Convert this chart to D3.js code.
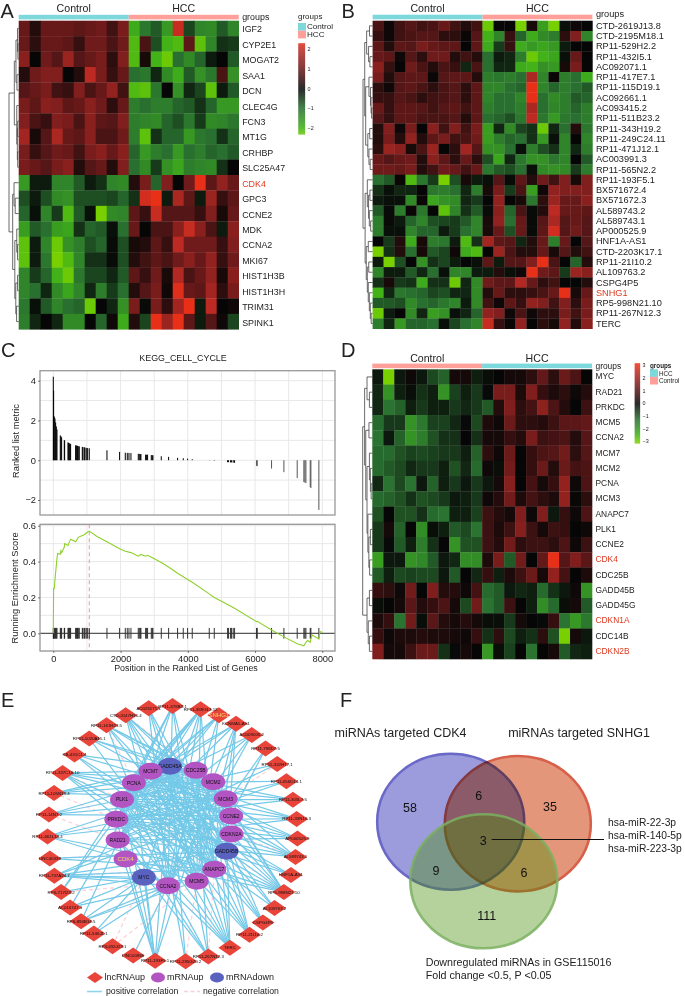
<!DOCTYPE html>
<html><head><meta charset="utf-8">
<script src="https://cdn.jsdelivr.net/npm/d3@7"></script>
<style>html,body{margin:0;padding:0;background:#fff}svg{display:block;filter:blur(.45px)}text{font-family:"Liberation Sans",Arial,sans-serif;fill:#222}</style>
</head><body><div id="c"></div>
<script>
// ---------- DATA ----------
const genesA=["IGF2","CYP2E1","MOGAT2","SAA1","DCN","CLEC4G","FCN3","MT1G","CRHBP","SLC25A47","CDK4","GPC3","CCNE2","MDK","CCNA2","MKI67","HIST1H3B","HIST1H3H","TRIM31","SPINK1"];
const valuesA=[
[1.0,.3,1.0,1.0,1.0,.9,1.0,1.1,.6,1.2,-1.9,-1.1,-.8,-1.6,2.1,-.6,-1.3,-1.4,-.8,-1.3],
[1.0,.4,1.0,1.0,.9,.5,1.1,1.1,.7,1.1,-2.1,.7,-.7,-2,-2.1,.9,-2.2,-1.3,-.4,-.5],
[1.4,0,1.1,.8,1.6,.8,1.0,1.2,.4,1.3,-2.1,.2,-2,-2.3,-1,-1.4,-.9,-.2,0,-.8],
[.3,1.1,1.3,1.3,0,.3,2.0,1.2,.5,1.0,-1,-1.1,-.3,-1.4,-1.9,-.8,-1.5,-1.1,.7,-1.5],
[.8,1.0,1.2,.6,.5,1.3,.7,1.0,1.5,.6,-2.1,-2.2,-1.1,0,-1.5,-.3,-.6,-2.2,-.2,-.8],
[1.2,.9,1.4,1.3,.9,1.0,1.4,1.1,.4,1.0,-1.2,-1,-1.2,-1.2,-.9,-.8,-.4,-.9,-1.6,-1.6],
[1.3,.7,.5,1.3,1.2,.7,1.4,.9,.8,1.3,-1.2,-1.3,-1.4,-.9,-.7,-1.1,-.5,-1.4,-1.3,-1.1],
[1.7,.2,.8,1.8,1.0,.9,1.4,.7,.7,1.1,-1.2,-2.2,-.4,-.9,-.9,-1.6,-1.1,-1,-.4,-.9],
[1.2,.5,.8,1.1,1.0,.6,1.2,1.4,1.0,1.4,-.9,-1.6,-1.2,-1,-1.6,-1,-1.2,-.9,-1,-.8],
[1.2,1.0,.8,1.2,1.4,.3,.8,1.0,.3,1.3,-1,-1.4,-.5,-1.5,-1.8,-1.2,-1.3,-1.4,-.4,0],
[-1.6,-.2,-.2,-1.3,-1.3,-.8,-.2,-.4,-1.3,-1.4,.3,1.2,-.9,1.3,0,1.1,2.6,.9,1.5,1.0],
[-.7,-.2,-.7,-1.4,-1.5,-.7,-.7,-.7,-.6,-.9,-.4,2.2,2.4,-.2,1.8,.9,-.2,1.6,.5,.9],
[-.9,-.1,-1.3,-.5,-2.1,-.8,-.1,-2.4,-1.4,-1.3,.9,.5,2.1,.8,.8,.8,.5,1.3,.2,1.0],
[-1.7,-.8,-1.0,-1.7,-1.8,-.4,-.9,-.8,-.1,-1,1.0,0,.7,.7,1.4,2.1,1.4,.7,-.2,1.4],
[-2.2,-.2,-1.3,-2.3,-1.5,-1.2,-.7,-.9,-.05,-.7,.2,.3,.9,.5,2.0,1.1,1.1,1.1,.5,1.3],
[-2.2,-.2,-1.1,-2.4,-2.1,-1.3,-.4,-.4,-.05,-.7,.3,.6,.9,.7,1.1,1.4,1.0,1.5,.5,1.1],
[-1.3,-.5,-.9,-2,-2.3,-1.1,-.6,-.6,-.3,-.8,.9,.5,1.1,.2,1.9,.7,1.0,1.5,.2,1.4],
[-1.3,-1.0,-.3,-1.4,-1.8,-1.3,-.3,-1.2,-.5,-1,.3,.8,1.2,.1,2.3,1.0,.9,1.7,.4,1.2],
[-1.1,-.1,-.8,-1.3,-1,-.9,-2.3,0,-.3,-1.5,1.2,-.05,1.2,.4,1.7,2.4,-.2,2.0,0,.1],
[-1.2,-.3,0,-.3,-1.4,-1.4,0,-.9,.1,-1.9,.3,-.6,2.8,1.6,2.7,.9,-.2,.8,.1,-.6]];
const genesB=["CTD-2619J13.8","CTD-2195M18.1","RP11-529H2.2","RP11-432I5.1","AC092071.1","RP11-417E7.1","RP11-115D19.1","AC092661.1","AC093415.2","RP11-511B23.2","RP11-343H19.2","RP11-249C24.11","RP11-471J12.1","AC003991.3","RP11-565N2.2","RP11-193F5.1","BX571672.4","BX571672.3","AL589743.2","AL589743.1","AP000525.9","HNF1A-AS1","CTD-2203K17.1","RP11-21I10.2","AL109763.2","CSPG4P5","SNHG1","RP5-998N21.10","RP11-267N12.3","TERC"];
const valuesB=[
[.7,.1,.6,.8,.6,.7,1,.6,.3,.6,-2.3,0,0,-2.4,.2,-1.7,-2.4,-.1,.1,0],
[.5,.1,.6,.7,.8,.8,.4,.4,.05,.8,-2,-1.3,.5,-.9,-1.9,-1.4,-1.2,.4,1.3,-1.3],
[.9,.3,.9,.8,1.2,1,.9,.9,0,.9,-1.9,-.5,.5,-1.9,-1.6,-1.8,-1.6,-.2,0,0],
[1,.9,.1,.8,.4,1.1,1.1,.3,.6,.3,-1,-.2,-.3,-1.2,-2.3,-2,-1.8,-.1,1,0],
[1.4,.5,0,1.1,.7,.3,.7,.5,-.3,.7,-1,-.3,-.3,-1.9,-2,-1.5,-1.6,.2,1.2,0],
[1.2,.3,.8,.9,.9,.05,.8,.9,.9,.3,-1.2,-1.1,-1.2,-1,1.8,-1.3,.05,-1.2,-1,-1.9],
[.4,.1,.8,.9,.7,.4,.7,.8,.4,.9,-1.3,-1.3,-1,-.9,2.7,-1.3,-.9,-1.2,-1,-.8],
[.5,.5,.8,.7,.4,.6,.7,.8,.4,.9,-1.3,-1,-1,-1.3,2.4,-1,-1.4,-1.2,-.8,-.9],
[1,.5,.9,.9,.8,.6,.8,.9,.6,.9,-1.2,-1,-1,-1.2,1.8,-1,-1.3,-1.2,-.9,-1.2],
[.8,.5,.9,.9,.7,.7,.7,.8,.3,.9,-1,-.9,-.7,-1.1,2,-1.1,-1.6,-1.1,-1,-1.2],
[.3,1.3,.1,1.2,0,1.4,.6,1.3,.6,1.2,-1.7,-.3,-1.4,-.6,-.4,-2.3,-.3,-1,.3,-1.1],
[.3,1.2,.3,1.5,.3,.9,1.2,.6,.7,1.1,-1.7,-1.2,-.9,-1,-.4,-1.6,-.1,-1.3,0,-1.3],
[.4,1.6,1.4,.2,.7,1.6,0,.4,1.7,.8,-1.5,-1.5,-1,-.1,-1.2,-.7,-.4,-1.3,-.3,-1.2],
[1,.8,1,1.1,.3,1.4,.9,.4,1,.4,-.7,-1.8,-.3,-1.1,-1.5,-1.5,-1.1,-1.3,0,-.8],
[1.1,1.1,1,1.2,.3,.6,1.1,1,.6,1,-1.1,-.8,-.7,-1,-.1,-1.4,-1.5,-1.4,-.5,-1.2],
[-1,-.8,.05,-2.1,-1.1,-.5,-2.4,-.7,.2,-.2,-.1,.8,-.05,.9,.3,1.1,.6,1.3,.2,1.3],
[-.4,-.1,-.3,-.3,0,-1.1,-1.2,-1,-.3,-1.2,.2,1.2,-.5,.7,-1.7,.1,1.5,1.3,1.3,1.3],
[-.2,-.1,-.1,-1.4,.05,-1.8,-1.5,-1.4,-.3,-.5,0,1.5,0,.2,-1.1,.4,1.6,1,1,1.4],
[-.8,-.05,-1.2,.05,-1.1,0,-2.2,-1.3,-.4,-.8,-.05,1.4,-.9,.7,-.05,.3,2,1,1,.9],
[-1.2,-.05,-.2,-.9,-1.3,-.7,-.6,-.5,-.8,-1.3,.2,1.5,-1,1,-.05,.8,1.8,.8,1,.8],
[-1.2,-.1,-.1,-1.3,-.9,-.9,-.2,-.5,-1,-1.3,.2,1,-.7,1,-.05,.9,2.2,.8,1.1,.8],
[0,-.5,.3,-1.9,.2,-1.2,-1.1,-.2,-2.1,-.4,1.7,.9,.8,-.3,.3,1,-1.2,1,0,.8],
[-2.4,-.4,.3,-1,.2,-.8,-.6,.1,-1.9,-2.1,0,1.6,.7,.3,.3,1,.2,.8,.3,.6],
[-.2,-2.4,-.7,0,-1.5,-.4,-.6,-.2,0,-.1,.9,-.2,.8,.8,1.3,2.7,.7,0,-.9,.3],
[-1.3,-.2,-.2,-.8,-.3,-1,-.1,-1.3,-1.3,-.2,-.2,.3,-.1,.1,2.6,1.1,.9,-.5,1.6,1.4],
[-.4,.2,-.5,-.4,-1.9,-.4,-.4,-2.3,-.3,-1.4,1.1,.9,.9,1.9,1,.4,.6,0,0,.3],
[-2,-.3,-1.1,-1,-.9,-.6,-.7,-.3,-.3,-1.4,.3,1,.4,.4,.5,.7,1,2.6,.2,1],
[-.8,-.8,-.7,-1.4,-1,-.9,-1.1,-1.3,-.2,-1.4,.6,.1,.9,.5,1.5,1.3,.6,1.3,.4,1.2],
[-2.3,-.2,0,-1.4,-.3,-1.7,-1.5,-.1,-.3,-.9,1.5,1.3,.1,.7,.1,.4,.4,1.2,.6,1.2],
[-1.2,-.3,-1.6,-.9,-.9,-1,-.1,-.6,-1,-1.3,2.1,.5,.05,1.5,0,.4,.2,1.5,.3,1.4]];
const genesD=["MYC","RAD21","PRKDC","MCM5","CCNA2","MCM7","MCM2","PCNA","MCM3","ANAPC7","PLK1","CCNE2","CDK4","CDC25B","GADD45B","GADD45G","CDKN1A","CDC14B","CDKN2B"];
const valuesD=[
[-.2,-3,-.2,.1,-.2,-.8,-1.1,.2,.2,-.3,-.1,0,.2,.2,.5,1.2,.5,1.3,.9,0],
[-.4,-1.9,-.3,-.1,-.5,-.3,-1.9,-.7,-.3,-.6,-.05,1.5,1.5,.3,1.6,.6,.3,.5,.1,.4],
[-.4,-1.3,-1.1,-.3,-.6,-.3,-.3,-.6,-.4,-.6,-1,.4,1.6,.5,.8,1.8,.9,.4,0,.7],
[-1.2,-.6,-.6,-1.9,-1.4,-.7,-.7,-.4,-.05,-.8,.3,.1,1.3,.5,.5,.4,.7,1.1,1.1,1.2],
[-1.3,-.2,-1.1,-1.9,-1.5,-.9,-.5,-.5,0,-.5,.2,.2,.6,.4,1.5,.7,.8,.9,.4,1],
[-1.2,-1.2,-.9,-.7,-.8,-.7,-.6,-.6,-.3,-1.1,.5,.1,1.3,0,.6,.9,1,1.4,.5,1],
[-1.2,-1,-.8,-.4,-.6,-.6,-.3,-.9,-.4,-1.2,.1,-.1,1.4,0,.6,1.3,.4,1.3,.8,.9],
[-.4,-1.3,-.8,-1.3,-.2,-1.1,-.3,-.6,-.2,-.6,-.2,.2,1.7,0,.8,.2,.6,1.9,.1,.9],
[-1.2,-1.1,-.9,-.5,-.9,-.8,-.6,-.2,-.3,-.6,.1,.4,1.4,.3,.8,.5,.3,1.9,.05,.5],
[-.9,0,-.9,-.9,-.5,-1.2,-1.3,-.3,-.3,-.7,.7,.4,.2,1.6,.1,1.6,-.2,.6,.1,.9],
[-.6,.2,-1.1,0,-1.8,-.1,-.3,-1,-.8,-1.3,.7,.3,.7,1.7,.7,.2,.7,.6,0,.1],
[-.6,-.05,-1,-.3,-1.5,-.5,0,-1.9,-.9,-.9,.7,.4,1.4,.5,.7,.7,.5,.9,.1,.7],
[-2.1,-.2,-.2,-1.9,-1.7,-1,-.2,-.4,-1.8,-1.8,.3,1.5,-1,1.4,0,1.2,3,1,1.6,1.1],
[-1,-.3,-.8,-.7,-.8,-.8,-.2,-1,0,-.4,.6,-.3,.3,.7,1.3,.2,1.9,.8,0,.3],
[.6,.5,.1,1.4,0,1.6,.4,.4,.1,.8,-1.2,-1,-.2,-.4,-.3,-1.2,-.5,-.2,.1,-1.9],
[-.1,0,.2,1.1,.4,.6,.9,.2,-.8,1.4,-1.3,-1,.7,0,-.3,-1.8,-1.2,-.1,.2,-1],
[.3,.6,-1.3,1.4,-.1,1.1,.4,.2,.4,.2,-.1,-.1,-.6,.2,0,-.05,.6,-1.3,-2,-1.4],
[.6,.1,.3,.3,.4,.3,.3,.2,.1,.6,-.5,.5,-.8,-.3,-.5,.5,-.9,-3,.2,-.2],
[1.6,.2,.2,.7,1.3,1.3,-.5,-.05,.2,0,-2,-.1,-.7,0,-1.3,0,.2,-1,-.4,-.3]];
const redGenes=["CDK4","SNHG1","CDKN1A","CDKN2B"];
// dendrograms: [height, child, child]; integers are row indices
const treeA=[1,[.45,[.28,[.12,0,[.08,1,2]],[.18,3,4]],[.2,5,[.14,[.1,6,7],[.1,8,9]]]],[.62,[.48,10,[.36,11,12]],[.4,[.2,13,[.12,14,15]],[.3,[.12,16,17],[.22,18,19]]]]];
const treeB=[1,[.82,[.62,[.32,0,1],[.42,2,[.28,3,4]]],[.72,[.38,5,[.22,6,[.16,7,[.1,8,9]]]],[.5,[.3,10,11],[.38,12,[.25,13,14]]]]],[.78,[.55,15,[.42,[.28,16,17],[.34,18,[.2,19,20]]]],[.66,[.45,21,22],[.55,[.4,23,24],[.45,25,[.34,26,[.24,27,[.15,28,29]]]]]]]];
const treeD=[1,[.8,[.55,0,[.3,1,2]],[.68,[.35,3,4],[.55,[.3,5,[.2,6,[.12,7,8]]],[.46,9,[.36,[.2,10,11],[.28,12,13]]]]]],[.55,[.3,14,15],[.42,16,[.3,17,18]]]];
const cbTicksA=[2,1,0,-1,-2], cbTicksD=[3,2,1,0,-1,-2,-3];
// GSEA
const hitRanks=[0,10,30,50,70,90,110,208,228,248,327,337,436,456,476,496,515,664,684,704,723,743,773,862,882,922,941,981,1021,1070,1596,1972,2141,2200,2250,2309,2527,2557,2587,2606,2745,2775,2804,2914,2943,2963,3211,3429,3696,3865,3994,4132,4638,4787,5183,5213,5272,5302,5351,5391,6045,6065,6491,6858,7254,7452,7482,7512,7641,7661,7898];
const hitMetric=[4.2,3.5,2.2,2.1,1.9,1.7,1.55,1.25,1.2,1.15,1,1,.9,.87,.85,.83,.82,.75,.74,.73,.72,.7,.7,.67,.66,.65,.64,.62,.61,.6,.5,.42,.38,.37,.37,.36,.32,.32,.31,.31,.28,.28,.28,.26,.25,.25,.2,.17,.12,.1,.08,.05,.01,-.02,-.1,-.1,-.11,-.11,-.12,-.13,-.28,-.3,-.42,-.6,-.9,-1.1,-1.12,-1.15,-1.35,-1.4,-2.5];
const esRank=[0,10,30,50,70,90,110,130,208,228,248,327,337,436,456,515,664,743,862,922,1021,1070,1300,1596,1972,2141,2309,2527,2606,2745,2804,2963,3211,3429,3696,3994,4132,4638,4787,5183,5391,6045,6065,6491,6858,7254,7452,7512,7560,7641,7661,7700,7898,7930,8000];
const esValue=[0,.25,.25,.3,.34,.38,.42,.445,.44,.46,.45,.48,.5,.49,.5,.525,.51,.535,.545,.55,.565,.57,.54,.51,.472,.458,.45,.43,.44,.43,.435,.42,.395,.37,.335,.3,.285,.22,.2,.16,.14,.065,.067,.018,-.02,-.058,-.07,-.05,-.04,-.05,-.03,-.01,-.032,.01,.005];
const peakRank=1070;
// network
const lncNodes=["RP11-378B3.1","RP11-388G13.12","SNHG1","KCNMA1-AS1","AC009005.2","RP11-798D7.5","RP11-332H17.1","RP11-656D14.1","RP11-305L7.5","RP11-33N16.3","AP000525.9","AL589743.1","HNF1A-AS1","RP5-998N21.10","AL109763.2","CSPG4P5","RP11-21I10.2","TERC","RP11-267N12.3","RP11-295G20.2","RP11-193F5.1","LINC00866","RP4-655J23.1","RP11-546J1.1","RP6-894B14.5","AC016747.3","RP6-717I23.2","RP11-737A24.7","LINC00339","RP11-661L14.4","RP11-14N7.2","RP11-105N13.4","RP11-337C18.10","KB-431C1.4","RP11-1020A11.1","RP11-161H23.5","CTD-2047H16.4","AC025171.1"];
const mrnaNodes=["GADD45A","CDC25B","MCM2","MCM3","CCNE2","CDKN2A","GADD45B","ANAPC7","MCM5","CCNA2","MYC","CDK4","RAD21","PRKDC","PLK1","PCNA","MCM7"];
const mrnaDown=["GADD45A","GADD45B","MYC"];
const posEdges=[[16,15,14,13,9,8,7],[16,15,14,13,12,10,9,8,7],[16,14,13,12,9,8],[15,14,12,9,8,7,6],[14,12,10,9],[9,8],[14,12],[13,12,15],[16,15,14,13],[16,15,14,13,12],[14,13,12,16,15],[16,15,14,13,12,1],[15,14,13],[16,15,14,13,12,11,0,1,2,3],[14,16,0],[16,15,0,1],[16,15,14,0,1,2],[16,15,14,13,12,0,1,2,3],[14,13,12,0,1],[0,16],[12,13,14,15,0,2,1,10],[9],[],[10,9],[10,9,8,16],[10,9,16],[10,16,15],[3,4,6,7,8,9,10],[7,6],[2,3,4,7,8],[1,2,3,4],[0,1,2,3],[1,2,3,4,6,7,8],[1,3,6,7],[1,2,4,8],[1,2,3,6,7,9],[3,4,6,7,8,9],[8,9,7,6]];
const negEdges=[[36,1],[32,14],[31,13],[30,12],[28,6],[27,7],[26,8],[24,9],[22,10],[22,8],[21,9],[5,4],[6,3],[19,8],[18,7],[13,6],[11,5],[35,15]];
const lncAngleIdx=[0,1,10,16,19,20,23,28,36,38], lncAngleDeg=[0,13,92,142,174,188,219,259,338,360];
const mrnaAngleIdx=[0,1,3,6,8,9,11,17], mrnaAngleDeg=[-4,22,63,115,157,186,236.6,356];
// venn
const vennNumbers=["58","6","35","3","9","6","111"];
const mirList=["hsa-miR-22-3p","hsa-miR-140-5p","hsa-miR-223-3p"];

// ---------- DRAW ----------
const W=685,H=996;
const svg=d3.select("#c").append("svg").attr("width",W).attr("height",H);
svg.append("rect").attr("width",W).attr("height",H).attr("fill","#fff");
const TEAL="#7dd8dc",SALMON="#ff9f99",RED="#e03a20";
const palette=["#78d000","#3fb01a","#2a7230","#060606","#6a1a1a","#b82a24","#e83018"];
const mkColor=m=>d3.scaleLinear().domain([-1,-.82,-.43,0,.43,.82,1].map(t=>t*m)).range(palette).clamp(true);

function text(x,y,s,o={}){return svg.append("text").attr("x",x).attr("y",y).attr("text-anchor",o.a||"start")
 .attr("dominant-baseline","central").attr("font-size",o.f||8).attr("font-weight",o.w||null).style("fill",o.c||"#222").text(s);}
["A","B","C","D","E","F"].forEach((l,i)=>{const p=[[0.5,11],[341.5,11],[1,350],[341,350],[1,700],[340,700]][i];text(p[0],p[1],l,{f:20});});

function heat(o){
 const g=svg.append("g");
 const x=d3.scaleBand().domain(d3.range(20)).range([o.x0,o.x1]);
 const y=d3.scaleBand().domain(d3.range(o.rows.length)).range([o.y0,o.y1]);
 const col=mkColor(o.vmax);
 g.selectAll("g").data(o.values).join("g").each(function(row,i){
  d3.select(this).selectAll("rect").data(row).join("rect")
   .attr("x",(d,j)=>x(j)).attr("y",y(i)).attr("width",x.bandwidth()+.3).attr("height",y.bandwidth()+.3).attr("fill",d=>col(d));
 });
 o.ann.forEach((a,k)=>{
  const xa=o.x0+(o.x1-o.x0)*k/2;
  g.append("rect").attr("x",xa).attr("y",o.annY).attr("width",(o.x1-o.x0)/2).attr("height",4.6).attr("fill",a.c);
  text(xa+(o.x1-o.x0)/4,o.titleY,a.t,{a:"middle",f:10.6});
 });
 text(o.x1+3.5,o.annY+2.5+(o.gdy||0),"groups",{f:o.lf});
 o.rows.forEach((r,i)=>text(o.x1+3.5,y(i)+y.bandwidth()/2+(o.ldy||0),r,{f:o.lf,c:redGenes.includes(r)?RED:"#222"}));
 const depth=d3.scaleLinear().domain([0,1]).range([o.x0,o.treeL]);
 const p=d3.path();
 (function walk(n){
  if(typeof n==="number")return{x:o.x0,y:y(n)+y.bandwidth()/2};
  const a=walk(n[1]),b=walk(n[2]),xx=depth(n[0]);
  p.moveTo(a.x,a.y);p.lineTo(xx,a.y);p.lineTo(xx,b.y);p.lineTo(b.x,b.y);
  return{x:xx,y:(a.y+b.y)/2};
 })(o.tree);
 g.append("path").attr("d",p.toString()).attr("fill","none").attr("stroke","#444").attr("stroke-width",.8);
}
heat({x0:18.7,x1:238.7,y0:20.7,y1:329.3,rows:genesA,values:valuesA,vmax:2.4,tree:treeA,treeL:9,annY:14.8,titleY:7.5,lf:8.9,ldy:1,gdy:-.5,
 ann:[{t:"Control",c:TEAL},{t:"HCC",c:SALMON}]});
heat({x0:372.6,x1:592.4,y0:20.7,y1:328.7,rows:genesB,values:valuesB,vmax:2.4,tree:treeB,treeL:363,annY:14.7,titleY:7.5,lf:9.2,gdy:-3.5,
 ann:[{t:"Control",c:TEAL},{t:"HCC",c:SALMON}]});
heat({x0:372.3,x1:592,y0:369.3,y1:659,rows:genesD,values:valuesD,vmax:3,tree:treeD,treeL:362.7,annY:363.6,titleY:357.5,lf:8.4,ldy:-.5,gdy:-.3,
 ann:[{t:"Control",c:SALMON},{t:"HCC",c:TEAL}]});

function colorbar(x,w,y0,y1,vTop,vBot,vmax,ticks){
 const sc=d3.scaleLinear().domain([vTop,vBot]).range([y0,y1]),col=mkColor(vmax);
 const g=svg.append("g");
 g.selectAll("rect").data(d3.range(y0,y1,1)).join("rect").attr("x",x).attr("y",d=>d).attr("width",w).attr("height",1.2).attr("fill",d=>col(sc.invert(d)));
 ticks.forEach(t=>text(x+w+2.5,sc(t),String(t).replace("-","\u2212"),{f:5.4}));
}
text(298,16,"groups",{f:8});
svg.append("rect").attr("x",298).attr("y",23).attr("width",8).attr("height",7.7).attr("fill",TEAL);
svg.append("rect").attr("x",298).attr("y",30.7).attr("width",8).attr("height",7.7).attr("fill",SALMON);
text(307,26.7,"Control",{f:8.1});text(307,34.7,"HCC",{f:8.1});
colorbar(298.3,6.8,43.3,134,2.3,-2.3,2.4,cbTicksA);
colorbar(634.7,5.4,363.3,443.3,3.15,-3.15,3,cbTicksD);
text(650,365,"groups",{f:6.3,w:"bold"});
svg.append("rect").attr("x",650).attr("y",369.3).attr("width",8).attr("height",7.6).attr("fill",TEAL);
svg.append("rect").attr("x",650).attr("y",376.9).attr("width",8).attr("height",7.6).attr("fill",SALMON);
text(659,373,"HCC",{f:6.3});text(659,380.7,"Control",{f:6.3});

// ----- C: GSEA -----
const xG=d3.scaleLinear().domain([0,8000]).range([53.3,322.3]);
const yT=d3.scaleLinear().domain([-2,4]).range([500,380.7]);
const yB=d3.scaleLinear().domain([0,.6]).range([633.3,525.7]);
const frameT={x:40,y:370.7,w:295,h:144.3},frameB={x:40,y:524.3,w:295,h:126.7};
text(183,358,"KEGG_CELL_CYCLE",{a:"middle",f:8.9});
function grid(fr,ys){
 const g=svg.append("g").attr("stroke","#e8e8e8").attr("stroke-width",1);
 d3.range(0,8001,1000).forEach(v=>g.append("line").attr("x1",xG(v)).attr("x2",xG(v)).attr("y1",fr.y).attr("y2",fr.y+fr.h));
 ys.forEach(p=>g.append("line").attr("x1",fr.x).attr("x2",fr.x+fr.w).attr("y1",p).attr("y2",p));
}
grid(frameT,d3.range(-2,4.1,1).map(yT));
grid(frameB,d3.range(-.1,.61,.1).map(yB));
svg.append("g").selectAll("line").data(hitRanks).join("line").attr("x1",d=>xG(d)).attr("x2",d=>xG(d))
 .attr("y1",yT(0)).attr("y2",(d,i)=>yT(hitMetric[i])).attr("stroke",(d,i)=>hitMetric[i]<-.2?"#555":"#000").attr("stroke-width",1);
svg.append("line").attr("x1",xG(peakRank)).attr("x2",xG(peakRank)).attr("y1",frameB.y).attr("y2",frameB.y+frameB.h).attr("stroke","#f08a8a").attr("stroke-width",.9).attr("stroke-dasharray","4 3");
svg.append("g").selectAll("line").data(hitRanks).join("line").attr("x1",d=>xG(d)).attr("x2",d=>xG(d))
 .attr("y1",yB(.03)).attr("y2",yB(-.03)).attr("stroke","#111").attr("stroke-width",.85);
svg.append("line").attr("x1",frameB.x).attr("x2",frameB.x+frameB.w).attr("y1",yB(0)).attr("y2",yB(0)).attr("stroke","#333").attr("stroke-width",1);
svg.append("path").datum(esRank).attr("fill","none").attr("stroke","#8fd02c").attr("stroke-width",1.1)
 .attr("d",d3.line().x(d=>xG(d)).y((d,i)=>yB(esValue[i])));
[frameT,frameB].forEach(f=>svg.append("rect").attr("x",f.x).attr("y",f.y).attr("width",f.w).attr("height",f.h).attr("fill","none").attr("stroke","#999").attr("stroke-width",1.3));
function styleAxis(g){g.select(".domain").remove();g.selectAll("line").attr("stroke","#444").attr("stroke-width",.7);
 g.selectAll("text").attr("font-size",9.3).style("fill","#222").style("font-family","'Liberation Sans'");}
svg.append("g").attr("transform","translate(40,0)").call(d3.axisLeft(yT).tickValues([-2,0,2,4]).tickSize(2).tickPadding(2).tickFormat(d=>String(d).replace("-","\u2212"))).call(styleAxis);
svg.append("g").attr("transform","translate(40,0)").call(d3.axisLeft(yB).tickValues([0,.2,.4,.6]).tickSize(2).tickPadding(2).tickFormat(d3.format(".1f"))).call(styleAxis);
svg.append("g").attr("transform","translate(0,651)").call(d3.axisBottom(xG).tickValues([0,2000,4000,6000,8000]).tickSize(2).tickPadding(2).tickFormat(d3.format("d"))).call(styleAxis);
text(0,0,"Ranked list metric",{a:"middle",f:9.3}).attr("transform","translate(16,441) rotate(-90)");
text(0,0,"Running Enrichment Score",{a:"middle",f:9.3}).attr("transform","translate(15,588) rotate(-90)");
text(186,668,"Position in the Ranked List of Genes",{a:"middle",f:8.9});

// ----- E: network -----
const aL=d3.scaleLinear().domain(lncAngleIdx).range(lncAngleDeg);
const aM=d3.scaleLinear().domain(mrnaAngleIdx).range(mrnaAngleDeg);
const rad=Math.PI/180;
const polar=(cx,cy,rx,ry,deg)=>[cx+rx*Math.sin(deg*rad),cy-ry*Math.cos(deg*rad)];
const lncP=lncNodes.map((n,i)=>polar(172.5,834,125,128,aL(i)));
const mrnaP=mrnaNodes.map((n,i)=>polar(174,826,58,60,aM(i)));
const POS="#74c9e8",NEG="#fcd0d4",DIA="#e8443a",PUR="#b254c2",BLU="#5a62c0";
const edges=svg.append("g");
negEdges.forEach(e=>edges.append("line").attr("x1",lncP[e[0]][0]).attr("y1",lncP[e[0]][1]).attr("x2",mrnaP[e[1]][0]).attr("y2",mrnaP[e[1]][1]).attr("stroke",NEG).attr("stroke-width",1.2).attr("stroke-dasharray","4 3"));
posEdges.forEach((l,i)=>l.forEach(m=>edges.append("line").attr("x1",lncP[i][0]).attr("y1",lncP[i][1]).attr("x2",mrnaP[m][0]).attr("y2",mrnaP[m][1]).attr("stroke",POS).attr("stroke-width",1.2)));
const diamond=(cx,cy,a,b)=>`M${cx},${cy-b}L${cx+a},${cy}L${cx},${cy+b}L${cx-a},${cy}Z`;
lncNodes.forEach((n,i)=>{svg.append("path").attr("d",diamond(lncP[i][0],lncP[i][1],11.5,8)).attr("fill",DIA);});
lncNodes.forEach((n,i)=>text(lncP[i][0],lncP[i][1],n,{a:"middle",f:n==="SNHG1"?6:4.4,c:n==="SNHG1"?"#f5d76e":"#111"}));
mrnaNodes.forEach((n,i)=>{svg.append("ellipse").attr("cx",mrnaP[i][0]).attr("cy",mrnaP[i][1]).attr("rx",12).attr("ry",8.5).attr("fill",mrnaDown.includes(n)?BLU:PUR);
 text(mrnaP[i][0],mrnaP[i][1],n,{a:"middle",f:n==="CDK4"?6:5,c:n==="CDK4"?"#f5d76e":"#111"});});
svg.append("path").attr("d",diamond(95,977.5,8,5.5)).attr("fill",DIA);
text(104.5,976.5,"lncRNAup",{f:9});
svg.append("ellipse").attr("cx",158).attr("cy",977.5).attr("rx",7).attr("ry",5).attr("fill",PUR);
text(167,976.5,"mRNAup",{f:9});
svg.append("ellipse").attr("cx",217).attr("cy",977.5).attr("rx",7).attr("ry",5).attr("fill",BLU);
text(226,976.5,"mRNAdown",{f:9});
svg.append("line").attr("x1",87).attr("x2",102).attr("y1",991.5).attr("y2",991.5).attr("stroke",POS).attr("stroke-width",1.6).attr("opacity",.8);
text(106,990.5,"positive correlation",{f:8.7});
svg.append("line").attr("x1",184).attr("x2",200).attr("y1",991.5).attr("y2",991.5).attr("stroke",NEG).attr("stroke-width",1.4).attr("stroke-dasharray","4 2.5");
text(203,990.5,"negative correlation",{f:8.7});

// ----- F: venn -----
svg.append("ellipse").attr("cx",450.7).attr("cy",821.7).attr("rx",73.5).attr("ry",68).attr("fill","#9c9bdc").attr("stroke","#6a69c8").attr("stroke-width",2.6);
svg.append("ellipse").attr("cx",517.8).attr("cy",823.7).attr("rx",73).attr("ry",67.7).attr("fill","#e4967a").attr("stroke","#d8604a").attr("stroke-width",2.6).style("mix-blend-mode","multiply");
svg.append("ellipse").attr("cx",483.8).attr("cy",881.3).attr("rx",73.5).attr("ry",67).attr("fill","#468e08").attr("fill-opacity",.4).attr("stroke","#7bb060").attr("stroke-width",2.6).attr("stroke-opacity",.85);
text(400.5,733,"miRNAs targeted CDK4",{a:"middle",f:12.5});
text(579,733,"miRNAs targeted SNHG1",{a:"middle",f:12.5});
[[410,808],[478.7,795.7],[550,807],[483.3,841],[436,871],[524,873],[486.7,916]].forEach((p,i)=>text(p[0],p[1],vennNumbers[i],{a:"middle",f:12.5,c:"#111"}));
svg.append("line").attr("x1",491.7).attr("x2",604).attr("y1",839.5).attr("y2",839.5).attr("stroke","#111").attr("stroke-width",1);
mirList.forEach((m,i)=>text(608,822+i*13,m,{f:10.3}));
text(425.7,962,"Downregulated miRNAs in GSE115016",{f:10.7});
text(425.7,975,"Fold change <0.5, P <0.05",{f:10.7});
</script></body></html>
